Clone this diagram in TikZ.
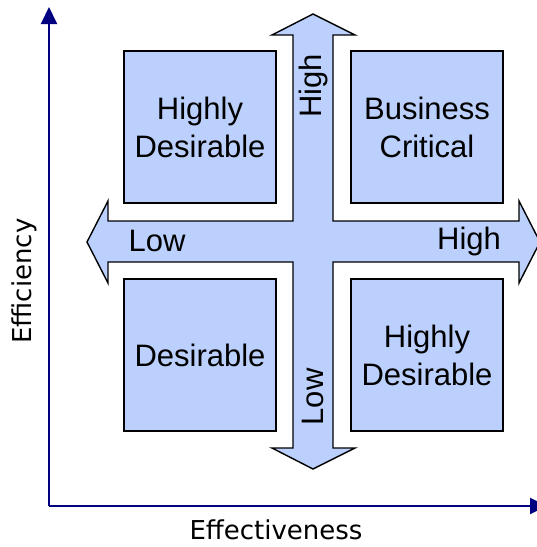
\documentclass[tikz,border=0pt]{standalone}
\usepackage{fontspec}
\setmainfont{Liberation Sans}
\newfontfamily\axisfont{DejaVu Sans}
\usepackage{tikz}
\usetikzlibrary{arrows.meta, positioning, calc}

\definecolor{boxblue}{RGB}{187,208,252}
\definecolor{axisnavy}{RGB}{0,0,128}

\tikzset{
    quad/.style={draw=black, line width=1.4pt, fill=boxblue, minimum width=152pt,
        minimum height=152pt, inner sep=0pt, align=center,
        font=\fontsize{31}{38}\selectfont},
    axis/.style={draw=axisnavy, line width=2pt, -{Triangle[width=16pt,length=17pt]}},
    axlabel/.style={font=\axisfont\fontsize{26}{30}\selectfont, inner sep=0pt},
    tag/.style={font=\fontsize{31}{36}\selectfont, inner sep=0pt}
}

\begin{document}
\begin{tikzpicture}[x=1pt, y=-1pt]
    \useasboundingbox (0,0) rectangle (537,547);

    % axes
    \coordinate (O) at (49,506);
    \coordinate (ytop) at (49,7);
    \coordinate (xend) at (547,506);
    \draw[axis] (O) -- (ytop);
    \draw[axis] (O) -- (xend);
    \node[axlabel, rotate=90] (eff1) at (24,281) {Efficiency};
    \node[axlabel] (eff2) at (276,530) {Effectiveness};

    % cross arrow
    \draw[fill=boxblue, line width=1.4pt, line join=miter]
        (313,14) -- (355,35) -- (333,35) -- (333,221) -- (519,221) -- (519,201)
        -- (540,242) -- (519,283) -- (519,262) -- (333,262) -- (333,448)
        -- (355,448) -- (313,469) -- (272,448) -- (293,448) -- (293,262)
        -- (108,262) -- (108,283) -- (87,242) -- (108,201) -- (108,221)
        -- (293,221) -- (293,35) -- (272,35) -- cycle;

    % quadrants
    \node[quad] (hd1) at (200,127) {Highly\\Desirable};
    \node[quad] (bc) at (427,127) {Business\\Critical};
    \node[quad] (d) at (200,355) {Desirable};
    \node[quad] (hd2) at (427,355) {Highly\\Desirable};

    % arrow labels
    \node[tag] (lowx) at (157,241) {Low};
    \node[tag] (highx) at (469,241) {High};
    \node[tag, rotate=90] (highy) at (313,86) {High};
    \node[tag, rotate=90] (lowy) at (313,397) {Low};
\end{tikzpicture}
\end{document}
